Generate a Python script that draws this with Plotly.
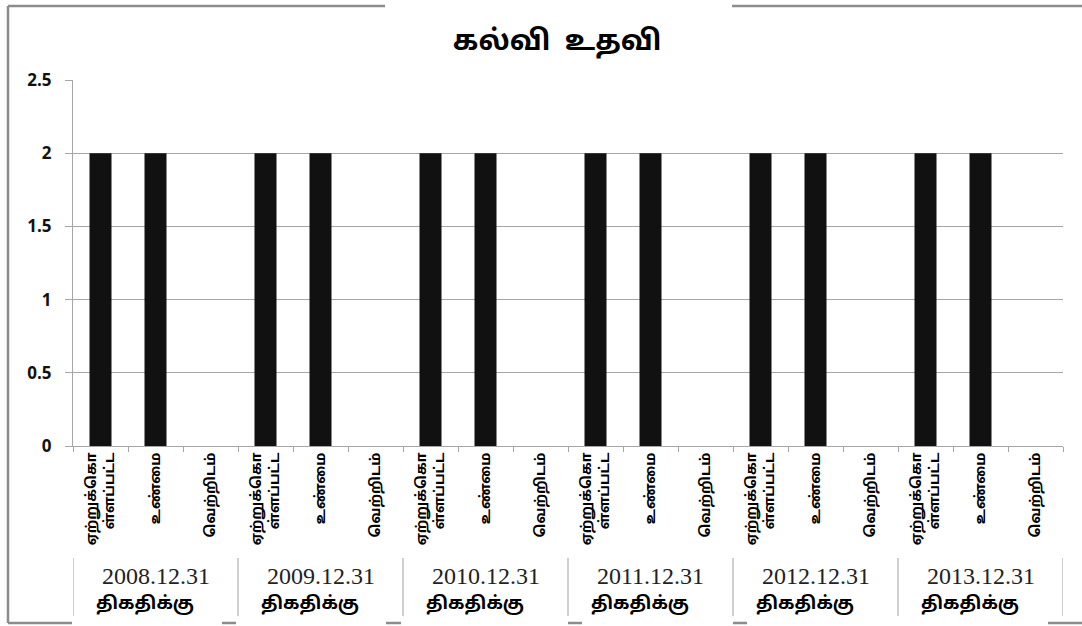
import plotly.graph_objects as go

# chart data
dates = ["2008.12.31", "2009.12.31", "2010.12.31", "2011.12.31", "2012.12.31", "2013.12.31"]
date_suffix = "திகதிக்கு"
categories = ["ஏற்றுக்கொ<br>ள்ளப்பட்ட", "உண்மை", "வெற்றிடம்"]
approved = [2, 2, 2, 2, 2, 2]
actual = [2, 2, 2, 2, 2, 2]
vacant = [0, 0, 0, 0, 0, 0]
y_ticks = [0, 0.5, 1, 1.5, 2, 2.5]
y_ticktext = ["0", "0.5", "1", "1.5", "2", "2.5"]

TAMIL = "Noto Sans Tamil, Latha, Noto Sans, sans-serif"
GRID = "#a6a6a6"

# flatten groups into one categorical run of 18 slots
xs, ys, labels = [], [], []
for g in range(len(dates)):
    for k, series in enumerate([approved, actual, vacant]):
        xs.append(g * 3 + k)
        ys.append(series[g])
        labels.append(categories[k])

fig = go.Figure()
fig.add_trace(go.Bar(
    x=xs, y=ys,
    marker=dict(color="#111111", line=dict(width=0)),
    width=0.4,
    showlegend=False,
    hoverinfo="y"
))

annotations = []
shapes = []
for g, d in enumerate(dates):
    center = g * 3 + 1
    annotations.append(dict(
        x=center, y=576, xref="x", yref="paper", yanchor="middle",
        text=d, showarrow=False,
        font=dict(family="Liberation Serif, serif", size=24, color="#222")
    ))
    annotations.append(dict(
        x=center - 0.2, y=604, xref="x", yref="paper", yanchor="middle",
        text=date_suffix, showarrow=False,
        font=dict(family=TAMIL, size=18, color="#000", weight="bold")
    ))
for b in range(len(dates) + 1):
    shapes.append(dict(type="line", xref="x", yref="paper",
                       x0=b * 3 - 0.5, x1=b * 3 - 0.5, y0=558, y1=616,
                       line=dict(color="#c0c0c0", width=1.5)))

# convert the pixel y of annotations / dividers into paper units
plot_top, plot_bottom = 80, 446
def to_paper(py):
    return (plot_bottom - py) / (plot_bottom - plot_top)
for a in annotations:
    a["y"] = to_paper(a["y"])
for s in shapes:
    s["y0"] = to_paper(s["y0"])
    s["y1"] = to_paper(s["y1"])

# outer chart border (broken, as in the scan)
border = dict(color="#8c8c8c", width=2.5)
for x0, y0, x1, y1 in [
    (8, 6, 8, 623), (8, 6, 385, 6), (732, 6, 1082, 6),
    (8, 623, 72, 623), (222, 623, 236, 623), (386, 623, 401, 623),
    (568, 623, 582, 623), (733, 623, 747, 623), (1048, 623, 1082, 623),
]:
    shapes.append(dict(type="line", xref="paper", yref="paper",
                       x0=(x0 - 73) / 990, x1=(x1 - 73) / 990,
                       y0=to_paper(y0), y1=to_paper(y1), line=border))

fig.update_layout(
    width=1082, height=626,
    margin=dict(l=73, r=19, t=80, b=180),
    paper_bgcolor="white",
    plot_bgcolor="white",
    title=dict(
        text="கல்வி  உதவி",
        x=0.489, xref="paper", xanchor="center",
        y=1 - 40 / 626, yref="container", yanchor="middle",
        font=dict(family=TAMIL, size=28, color="#000", weight="bold")
    ),
    xaxis=dict(
        range=[-0.5, 17.5],
        tickmode="array", tickvals=xs, ticktext=labels,
        tickangle=-90,
        tickfont=dict(family=TAMIL, size=14, color="#000", weight="bold"),
        ticks="",
        showline=True, linecolor=GRID, linewidth=1,
        showgrid=False, zeroline=False,
        minor=dict(tickmode="linear", tick0=-0.5, dtick=1, ticks="outside",
                   ticklen=5, tickcolor=GRID, showgrid=False),
    ),
    yaxis=dict(
        range=[0, 2.5],
        tickmode="array", tickvals=y_ticks, ticktext=y_ticktext,
        tickfont=dict(family="Open Sans, sans-serif", size=17, color="#111", weight="bold"),
        ticks="outside", ticklen=7, tickcolor=GRID,
        ticklabelstandoff=10,
        showgrid=True, gridcolor=GRID, gridwidth=1,
        showline=True, linecolor=GRID, linewidth=1,
        zeroline=False,
    ),
    annotations=annotations,
    shapes=shapes,
)

# drop the default 8px body margin so the figure sits at the page origin
fig.write_html("out.html", config={"displayModeBar": False},
               post_script="document.body.style.margin='0';")
